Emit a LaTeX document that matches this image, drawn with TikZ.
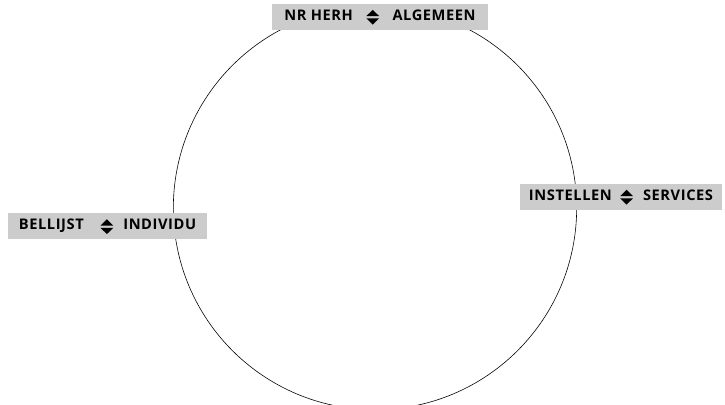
\documentclass[tikz,border=0pt]{standalone}
\usepackage{fontspec}
\setmainfont{Open Sans}[LetterSpace=4]
\usepackage{xcolor}
\definecolor{LG}{RGB}{204,204,204}
\newcommand{\updn}{\tikz[baseline=-0.35ex,x=1pt,y=1pt]{%
  \fill (-5.5,0.9) -- (5.5,0.9) -- (0,6.3) -- cycle;
  \fill (-5.5,-0.9) -- (5.5,-0.9) -- (0,-6.3) -- cycle;}}

\begin{document}
\begin{tikzpicture}[x=0.03cm, y=-0.03cm,
  ring/.style={draw=black, line width=0.5pt, circle, minimum size=12.1cm, inner sep=0pt},
  tag/.style={fill=LG, minimum height=0.78cm, inner sep=0pt, align=center,
              font=\fontsize{12.5}{14}\selectfont\bfseries}
]
\useasboundingbox (0,0) rectangle (725,405);
\clip (0,0) rectangle (725,405);

% The dial
\node[ring] (ring) at (375,208) {};

% Labels on the dial
\node[tag, minimum width=6.48cm] (top)   at (380,17)    {NR HERH\hspace{4mm}\updn\hspace{4mm}ALGEMEEN};
\node[tag, minimum width=5.97cm] (left)  at (107.5,226.5) {BELLIJST\hspace{5mm}\updn\hspace{3mm}INDIVIDU};
\node[tag, minimum width=6.06cm] (right) at (621,197)   {INSTELLEN\hspace{2.5mm}\updn\hspace{3mm}SERVICES};
\end{tikzpicture}
\end{document}
